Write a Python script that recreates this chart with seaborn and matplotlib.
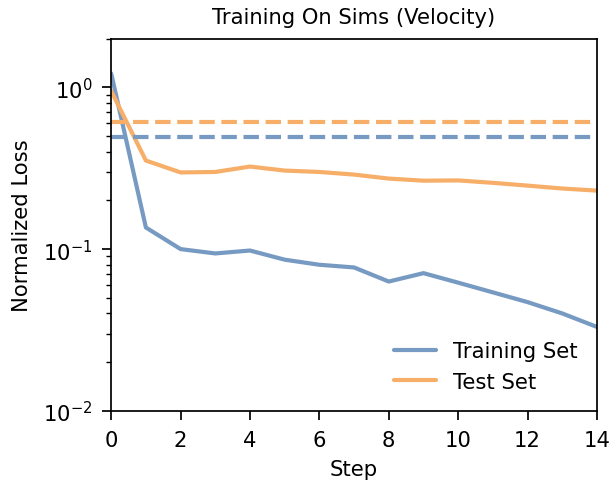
import numpy as np
import pandas as pd
import matplotlib
matplotlib.use("Agg")
import matplotlib.pyplot as plt
import seaborn as sns

steps = list(range(15))
train_loss = [1.22, 0.136, 0.100, 0.094, 0.098, 0.086, 0.080, 0.077, 0.063, 0.071, 0.062, 0.054, 0.047, 0.040, 0.033]
test_loss = [0.95, 0.353, 0.298, 0.300, 0.324, 0.306, 0.300, 0.289, 0.273, 0.265, 0.266, 0.257, 0.247, 0.237, 0.230]
series_names = ["Training Set", "Test Set"]
baseline_values = [0.497, 0.607]
colors = ["#779ac2", "#f6ae68"]

sns.set_theme(style="ticks")
plt.rcParams['font.family'] = ['DejaVu Sans']
plt.rcParams['text.color'] = 'black'
plt.rcParams['axes.labelcolor'] = 'black'
plt.rcParams['xtick.color'] = 'black'
plt.rcParams['ytick.color'] = 'black'

df = pd.DataFrame({
    "Step": steps * 2,
    "Loss": train_loss + test_loss,
    "Set": [series_names[0]] * len(steps) + [series_names[1]] * len(steps),
})

fs = 15.2
fig = plt.figure(figsize=(6.11, 4.85), dpi=100)
ax = fig.add_axes([0.182, 0.151, 0.795, 0.767])
sns.lineplot(data=df, x="Step", y="Loss", hue="Set", palette=colors,
             hue_order=series_names, linewidth=3, ax=ax)
for val, c in zip(baseline_values, colors):
    ax.axhline(val, color=c, linestyle="--", linewidth=3)

ax.set_yscale("log")
ax.set_ylim(0.01, 2.0)
ax.set_xlim(0, 14)
ax.set_xticks(range(0, 15, 2))
ax.tick_params(labelsize=fs, color="black")
ax.tick_params(which="major", length=6.5, width=1.25, pad=7)
ax.tick_params(which="minor", length=3.8, width=1.0)
ax.set_xlabel("Step", fontsize=fs, labelpad=7)
ax.set_ylabel("Normalized Loss", fontsize=fs, labelpad=8)
ax.set_title("Training On Sims (Velocity)", fontsize=fs, color="black", pad=11)
leg = ax.legend(loc="lower right", frameon=False, fontsize=fs, handlelength=2.0)
for s in ax.spines.values():
    s.set_color("black")
    s.set_linewidth(1.25)

fig.savefig("out.png", dpi=100)
